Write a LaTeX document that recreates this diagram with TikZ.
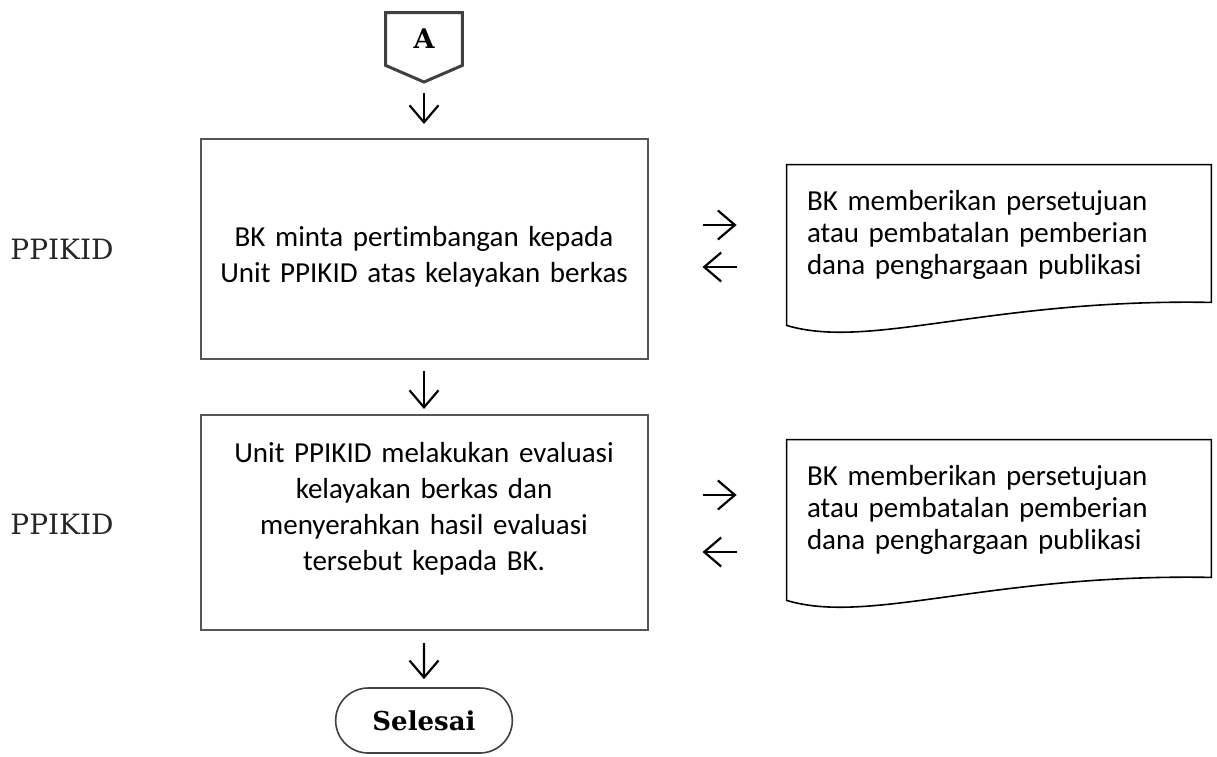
\documentclass[tikz,border=0pt]{standalone}
\usepackage{fontspec}
\setmainfont{Carlito}[Ligatures=NoCommon]
\newfontfamily\slabfont{DejaVu Serif}
\usetikzlibrary{arrows.meta, shapes.misc}
\definecolor{boxgray}{HTML}{555555}
\definecolor{tagray}{HTML}{404040}
\tikzstyle{process} = [rectangle, draw=boxgray, line width=1pt, minimum width=223.5pt, text width=210pt, align=center, font=\fontsize{14.5}{18}\selectfont]
\tikzstyle{document} = [rectangle, minimum width=212pt, minimum height=70pt, inner xsep=10pt, text width=192pt, align=left, font=\fontsize{14.5}{16}\selectfont]
\tikzstyle{offpage} = [rectangle, minimum width=38pt, minimum height=26pt, font=\slabfont\bfseries\fontsize{13.5}{15}\selectfont]
\tikzstyle{startstop} = [rounded rectangle, draw=tagray, line width=0.8pt, minimum width=95pt, minimum height=32.5pt, font=\slabfont\bfseries\fontsize{13}{15}\selectfont]
\tikzstyle{lane} = [font=\slabfont\fontsize{14}{16}\selectfont, text=black!85]
\tikzstyle{arrow} = [line width=1.1pt, -{Straight Barb[length=8.5pt,width=14.5pt]}]

\begin{document}
\begin{tikzpicture}[x=0.5pt, y=-0.5pt]
		\useasboundingbox (0,0) rectangle (1217,756);
		
		\node (A) [offpage] at (424,39) {A};
		\coordinate (Atip) at (424,82);
		\draw [tagray, line width=1.5pt] (A.north west) -- (A.north east) -- (A.south east) -- (Atip) -- (A.south west) -- cycle;
		
		\node (box1) [process, minimum height=110pt, text height=18pt] at (424,249) {BK minta pertimbangan kepada\\ Unit PPIKID atas kelayakan berkas};
		\node (box2) [process, minimum height=107.5pt, text depth=70pt] at (424,522.5) {Unit PPIKID melakukan evaluasi\\ kelayakan berkas dan\\ menyerahkan hasil evaluasi\\ tersebut kepada BK.};
		\node (end) [startstop] at (424,720.5) {Selesai};
		
		\node (doc1) [document] at (999,235) {BK memberikan persetujuan\\ atau pembatalan pemberian\\ dana penghargaan publikasi};
		\node (doc2) [document] at (999,510) {BK memberikan persetujuan\\ atau pembatalan pemberian\\ dana penghargaan publikasi};
		\foreach \d in {doc1,doc2}
			\draw [black, line width=0.8pt] ([yshift=1.5pt]\d.south east) .. controls +(-221,-4) and +(83,25) .. ([yshift=-10pt]\d.south west) -- (\d.north west) -- (\d.north east) -- cycle;
		
		\node (lane1) [lane] at (62,249) {PPIKID};
		\node (lane2) [lane] at (62,524) {PPIKID};
		
		\draw [arrow, shorten <=5.5pt, shorten >=7pt] (Atip) -- (box1);
		\draw [arrow, shorten <=5.5pt, shorten >=2.5pt] (box1) -- (box2);
		\draw [arrow, shorten <=6pt, shorten >=4pt] (box2) -- (end);
		\draw [arrow, shorten <=27pt, shorten >=25pt] ([yshift=12pt]box1.east) -- ([yshift=5pt]doc1.west);
		\draw [arrow, shorten <=25pt, shorten >=27pt] ([yshift=-16pt]doc1.west) -- ([yshift=-9pt]box1.east);
		\draw [arrow, shorten <=27pt, shorten >=25pt] ([yshift=13.75pt]box2.east) -- ([yshift=7.5pt]doc2.west);
		\draw [arrow, shorten <=25pt, shorten >=27pt] ([yshift=-21pt]doc2.west) -- ([yshift=-14.75pt]box2.east);
		
		\end{tikzpicture}
\end{document}
